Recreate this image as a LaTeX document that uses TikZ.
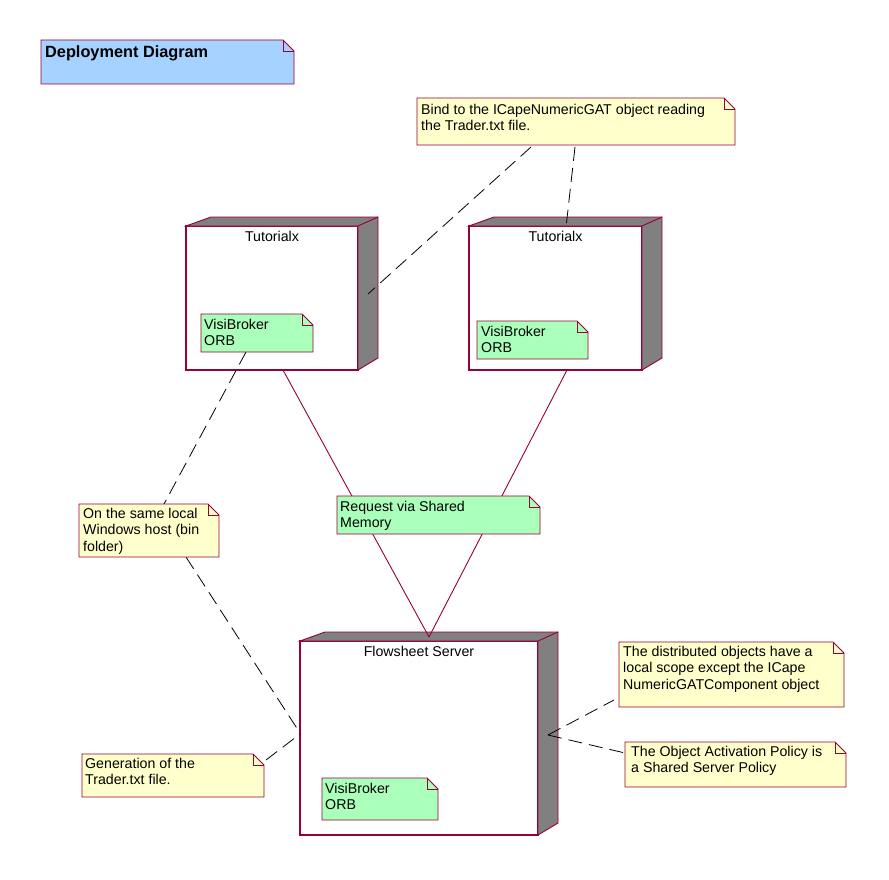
\documentclass[tikz,border=0pt]{standalone}
\usepackage{fontspec}
\setmainfont{Liberation Sans}
\definecolor{umlred}{RGB}{153,0,51}
\definecolor{noteyellow}{RGB}{255,255,204}
\definecolor{notegreen}{RGB}{170,255,187}
\definecolor{noteblue}{RGB}{166,210,255}
\definecolor{sidegray}{RGB}{128,128,128}

% folded-corner note outline around an (invisible) frame node
\newcommand\drawnote[2]{%
  \filldraw[draw=umlred, line width=0.9pt, fill=#2]
    (#1.south west) -- (#1.north west) -- ([xshift=-11pt]#1.north east)
    -- ([yshift=-11pt]#1.north east) -- (#1.south east) -- cycle;
  \draw[umlred, line width=0.6pt]
    ([xshift=-11pt]#1.north east) -- ([xshift=-11pt,yshift=-11pt]#1.north east)
    -- ([yshift=-11pt]#1.north east);
}
% grey top and side faces of a 3-D deployment node
\newcommand\drawdevice[1]{%
  \filldraw[draw=umlred, line width=0.9pt, fill=sidegray]
    (#1.north west) -- ++(25,-9) -| ([xshift=20pt,yshift=12pt]#1.south east)
    -- (#1.south east) -- (#1.north east) -- cycle;
  \draw[umlred, line width=0.9pt] (#1.north east) -- ++(20,-9);
}

\begin{document}
\begin{tikzpicture}[x=1pt,y=-1pt,
  frame/.style={draw=none, fill=none, inner sep=0pt, outer sep=0pt, anchor=north west},
  device/.style={draw=umlred, fill=white, line width=1.2pt, inner sep=0pt, outer sep=0pt, anchor=north west},
  txt/.style={inner sep=0pt, anchor=north west, align=left, font=\fontsize{14.2}{16.5}\selectfont},
  devname/.style={inner sep=0pt, anchor=north, font=\fontsize{14.2}{16.5}\selectfont},
  solidlink/.style={draw=umlred, line width=0.9pt},
  dashlink/.style={draw=black, line width=0.8pt, dash pattern=on 14pt off 7pt}]

\fill[white] (0,0) rectangle (889,880);
\useasboundingbox (0,0) rectangle (889,880);

% ---- deployment nodes ----
\node[device, minimum width=172pt, minimum height=144pt] (tutl) at (186,226) {};
\drawdevice{tutl}
\node[devname] (tutlname) at ([yshift=-5pt]tutl.north) {Tutorialx};

\node[device, minimum width=173pt, minimum height=144pt] (tutr) at (469,226) {};
\drawdevice{tutr}
\node[devname] (tutrname) at ([yshift=-5pt]tutr.north) {Tutorialx};

\node[device, minimum width=238pt, minimum height=194pt] (fs) at (300,641) {};
\drawdevice{fs}
\node[devname] (fsname) at ([yshift=-5pt]fs.north) {Flowsheet Server};

% ---- note frames ----
\node[frame, minimum width=253pt, minimum height=44pt] (title) at (41,40) {};
\node[frame, minimum width=318pt, minimum height=47pt] (bind) at (417,98) {};
\node[frame, minimum width=112pt, minimum height=38pt] (visil) at (201,314) {};
\node[frame, minimum width=111pt, minimum height=38pt] (visir) at (477,321) {};
\node[frame, minimum width=203pt, minimum height=38pt] (request) at (337,496) {};
\node[frame, minimum width=116pt, minimum height=42pt] (visifs) at (322,778) {};
\node[frame, minimum width=140pt, minimum height=53pt] (same) at (79,504) {};
\node[frame, minimum width=182pt, minimum height=43pt] (gen) at (82,754) {};
\node[frame, minimum width=225pt, minimum height=65pt] (dist) at (619,642) {};
\node[frame, minimum width=221pt, minimum height=45pt] (act) at (625,742) {};

% ---- communication links ----
\draw[solidlink] ([xshift=11pt]tutl.south) -- ([xshift=10pt,yshift=4pt]fs.north);
\draw[solidlink] ([xshift=11.5pt]tutr.south) -- ([xshift=10pt,yshift=4pt]fs.north);

% ---- note anchors ----
\draw[dashlink] ([xshift=114pt,yshift=-2pt]bind.south west) -- ([xshift=10pt,yshift=4pt]tutl.east);
\draw[dashlink] ([xshift=158pt,yshift=-2pt]bind.south west) -- ([xshift=11pt,yshift=3pt]tutr.north);
\draw[dashlink] ([xshift=45pt]visil.south west) -- ([xshift=85pt]same.north west);
\draw[dashlink] ([xshift=107pt]same.south west) -- ([yshift=5pt]fs.west);
\draw[dashlink] ([xshift=2pt,yshift=-6pt]gen.north east) -- ([yshift=4pt]fs.west);
\draw[dashlink] ([xshift=10pt,yshift=3pt]fs.east) -- ([xshift=-5pt,yshift=7pt]dist.south west);
\draw[dashlink] ([xshift=10pt,yshift=3pt]fs.east) -- ([yshift=-11pt]act.north west);

% ---- notes ----
\drawnote{title}{noteblue}
\node[txt, font=\fontsize{16.3}{18}\selectfont\bfseries] (titletxt)
  at ([xshift=4pt,yshift=-5pt]title.north west) {Deployment Diagram};

\drawnote{bind}{noteyellow}
\node[txt] (bindtxt) at ([xshift=4pt,yshift=-6pt]bind.north west)
  {Bind to the ICapeNumericGAT object reading\\the Trader.txt file.};

\drawnote{visil}{notegreen}
\node[txt] (visiltxt) at ([xshift=3pt,yshift=-5pt]visil.north west) {VisiBroker\\ORB};

\drawnote{visir}{notegreen}
\node[txt] (visirtxt) at ([xshift=4pt,yshift=-5pt]visir.north west) {VisiBroker\\ORB};

\drawnote{request}{notegreen}
\node[txt] (requesttxt) at ([xshift=3pt,yshift=-5pt]request.north west) {Request via Shared\\Memory};

\drawnote{visifs}{notegreen}
\node[txt] (visifstxt) at ([xshift=3pt,yshift=-5pt]visifs.north west) {VisiBroker\\ORB};

\drawnote{same}{noteyellow}
\node[txt] (sametxt) at ([xshift=4pt,yshift=-4pt]same.north west)
  {On the same local\\Windows host (bin\\folder)};

\drawnote{gen}{noteyellow}
\node[txt] (gentxt) at ([xshift=3pt,yshift=-4pt]gen.north west)
  {Generation of the\\Trader.txt file.};

\drawnote{dist}{noteyellow}
\node[txt] (disttxt) at ([xshift=4pt,yshift=-4pt]dist.north west)
  {The distributed objects have a\\local scope except the ICape\\NumericGATComponent object};

\drawnote{act}{noteyellow}
\node[txt] (acttxt) at ([xshift=6pt,yshift=-4pt]act.north west)
  {The Object Activation Policy is\\a Shared Server Policy};

\end{tikzpicture}
\end{document}
